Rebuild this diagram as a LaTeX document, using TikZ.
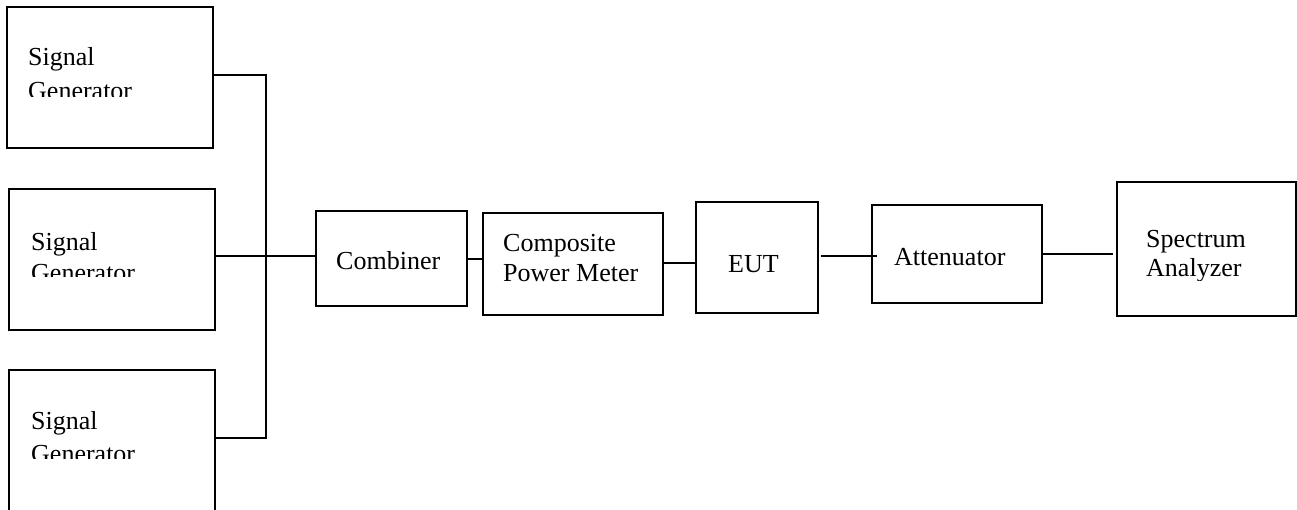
\documentclass[tikz,border=0pt]{standalone}
\usepackage{fontspec}
\setmainfont{Liberation Serif}
\begin{document}
\begin{tikzpicture}[x=1pt,y=-1pt,
  unitbox/.style={draw, line width=2pt, inner sep=0pt, outer sep=0pt, anchor=north west},
  gen/.style={unitbox, minimum width=206pt, minimum height=141pt},
  wire/.style={line width=2pt},
  lbl/.style={anchor=base west, inner sep=0pt, font=\fontsize{26}{31}\selectfont},
]
\useasboundingbox (0,0) rectangle (1297,510);

% equipment boxes
\node[gen] (sg1) at (7,7) {};
\node[gen] (sg2) at (9,189) {};
\node[gen] (sg3) at (9,370) {};
\node[unitbox, minimum width=151pt, minimum height=95pt] (comb) at (316,211) {};
\node[unitbox, minimum width=180pt, minimum height=102pt] (cpm) at (483,213) {};
\node[unitbox, minimum width=122pt, minimum height=111pt] (eut) at (696,202) {};
\node[unitbox, minimum width=170pt, minimum height=98pt] (att) at (872,205) {};
\node[unitbox, minimum width=179pt, minimum height=134pt] (sa) at (1117,182) {};

% labels (second lines are cut off by their text frames)
\node[lbl] (sg1a) at (28,66) {Signal};
\begin{scope}
  \clip (20,72) rectangle (205,97);
  \node[lbl] (sg1b) at (28,100) {Generator};
\end{scope}
\node[lbl] (sg2a) at (31,251) {Signal};
\begin{scope}
  \clip (20,257) rectangle (205,277);
  \node[lbl] (sg2b) at (31,282) {Generator};
\end{scope}
\node[lbl] (sg3a) at (31,429) {Signal};
\begin{scope}
  \clip (20,435) rectangle (205,458);
  \node[lbl] (sg3b) at (31,462) {Generator};
\end{scope}
\node[lbl] (combt) at (336,270) {Combiner};
\node[lbl] (cpma) at (503,252) {Composite};
\node[lbl] (cpmb) at (503,282) {Power Meter};
\node[lbl] (eutt) at (728,273) {EUT};
\node[lbl] (attt) at (894,266) {Attenuator};
\node[lbl] (saa) at (1146,248) {Spectrum};
\begin{scope}
  \clip (1130,254) rectangle (1290,281);
  \node[lbl] (sab) at (1146,277) {Analyzer};
\end{scope}

% signal path
\coordinate (bustop) at (266,75);
\coordinate (busbot) at (266,438);
\coordinate (eutout) at ([xshift=3pt]eut.east);
\coordinate (attin) at ([xshift=5pt]att.west);
\coordinate (sain) at ([xshift=-4pt]sa.west);

\draw[wire] (sg1.east |- bustop) -- (bustop) -- (busbot) -- (sg3.east |- busbot);
\draw[wire] (sg2.east |- 0,256) -- (comb.west |- 0,256);
\draw[wire] (comb.east |- 0,259) -- (cpm.west |- 0,259);
\draw[wire] (cpm.east |- 0,263) -- (eut.west |- 0,263);
\draw[wire] (eutout |- 0,256) -- (attin |- 0,256);
\draw[wire] (att.east |- 0,254) -- (sain |- 0,254);
\end{tikzpicture}
\end{document}
